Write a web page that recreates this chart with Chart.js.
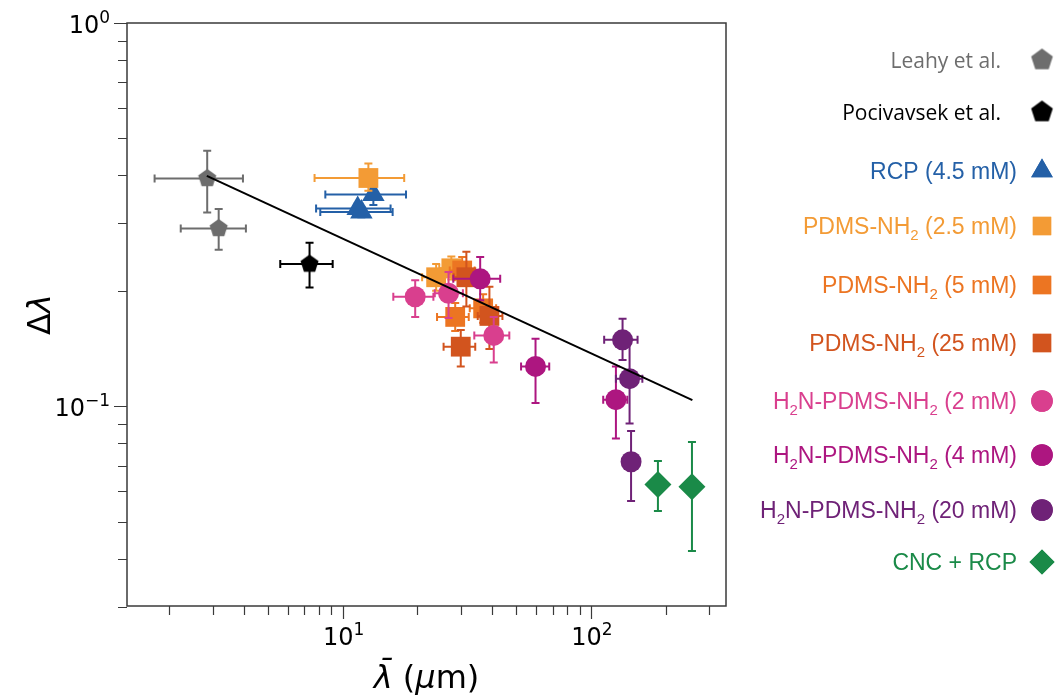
<!DOCTYPE html>
<html>
<head>
<meta charset="utf-8">
<script src="https://cdn.jsdelivr.net/npm/chart.js@4/dist/chart.umd.min.js"></script>
<style>
  body { margin: 0; background: #fff; }
  canvas { display: block; }
</style>
</head>
<body>
<canvas id="myChart" width="1063" height="697"></canvas>
<script>
// series names, "_2" means subscript 2
const seriesNames = [
  "Leahy et al.",
  "Pocivavsek et al.",
  "RCP (4.5 mM)",
  "PDMS-NH_2 (2.5 mM)",
  "PDMS-NH_2 (5 mM)",
  "PDMS-NH_2 (25 mM)",
  "H_2N-PDMS-NH_2 (2 mM)",
  "H_2N-PDMS-NH_2 (4 mM)",
  "H_2N-PDMS-NH_2 (20 mM)",
  "CNC + RCP"
];
const seriesColors = ["#6d6d6d", "#000000", "#2460a7", "#f39b35", "#ec7522", "#d2541e",
                      "#d93f8e", "#ad1680", "#6f2277", "#1a8a48"];
const seriesMarkers = ["pentagon", "pentagon", "triangle", "rect", "rect", "rect",
                       "circle", "circle", "circle", "rectRot"];

// mean wavelength (um)
const lambdaMean = [
  [2.85, 3.17], [7.36], [13.3, 11.5, 11.9], [12.7, 23.8, 27.4], [28.4, 36.8, 30.3],
  [29.9, 39.0, 31.5], [19.6, 26.7, 40.6], [35.8, 59.8, 126], [134, 143, 145], [186, 255]
];
const lambdaLow = [
  [1.75, 2.23], [5.61], [8.52, 7.82, 8.13], [7.71, 20.9, 24.5], [24.0, 32.5, 27.0],
  [25.5, 35.0, 28.0], [16.0, 23.5, 33.9], [27.9, 52.3, 112], [113, 126, null], [null, null]
];
const lambdaHigh = [
  [3.97, 4.08], [9.12], [18.0, 15.6, 15.9], [17.7, 28.4, 31.0], [32.2, 41.5, 34.0],
  [34.2, 44.0, 36.0], [23.2, 30.5, 46.9], [43.1, 67.9, 140], [154, 161, null], [null, null]
];
// delta lambda
const deltaMean = [
  [0.393, 0.291], [0.235], [0.357, 0.328, 0.321], [0.394, 0.217, 0.229], [0.171, 0.180, 0.226],
  [0.143, 0.172, 0.217], [0.193, 0.197, 0.153], [0.215, 0.127, 0.104], [0.149, 0.118, 0.0716], [0.0625, 0.0616]
];
const deltaLow = [
  [0.320, 0.256], [0.204], [0.335, 0.318, 0.311], [0.365, 0.200, 0.214], [0.157, 0.165, 0.208],
  [0.127, 0.141, 0.182], [0.171, 0.170, 0.130], [0.189, 0.102, 0.0824], [0.132, 0.0901, 0.0566], [0.0533, 0.0419]
];
const deltaHigh = [
  [0.464, 0.327], [0.267], [0.379, 0.338, 0.331], [0.430, 0.235, 0.246], [0.186, 0.196, 0.245],
  [0.158, 0.205, 0.253], [0.213, 0.224, 0.171], [0.245, 0.150, 0.127], [0.169, 0.149, 0.0862], [0.0719, 0.0807]
];

// power-law fit end points
const fitX = [2.84, 256];
const fitY = [0.399, 0.1037];

// axes
const xMin = 1.355, xMax = 349.6;
const yMin = 0.0301, yMax = 1;
const xTicks = [2, 3, 4, 5, 6, 7, 8, 9, 10, 20, 30, 40, 50, 60, 70, 80, 90, 100, 200, 300];
const xMajor = [10, 100];
const xMajorExp = ["1", "2"];
const yTicks = [0.03, 0.04, 0.05, 0.06, 0.07, 0.08, 0.09, 0.1, 0.2, 0.3, 0.4, 0.5, 0.6, 0.7, 0.8, 0.9, 1];
const yMajor = [0.1, 1];
const yMajorExp = ["\u22121", "0"];

function makePentagon(color, R) {
  const c = document.createElement("canvas");
  const s = Math.ceil(2 * R) + 2;
  c.width = s; c.height = s;
  const g = c.getContext("2d");
  g.fillStyle = color;
  g.beginPath();
  for (let k = 0; k < 5; k++) {
    const a = -Math.PI / 2 + k * 2 * Math.PI / 5;
    const px = s / 2 + R * Math.cos(a), py = s / 2 + R * Math.sin(a);
    if (k === 0) g.moveTo(px, py); else g.lineTo(px, py);
  }
  g.closePath();
  g.fill();
  return c;
}

const plotRadius = { pentagon: 9.5, triangle: 13, rect: 14, circle: 10.5, rectRot: 13.5 };
const legendRadius = { pentagon: 11.4, triangle: 12.5, rect: 13, circle: 10.8, rectRot: 12.5 };

function markerStyle(i, sizes) {
  const m = seriesMarkers[i];
  if (m === "pentagon") return makePentagon(seriesColors[i], sizes.pentagon);
  return m;
}

const datasets = seriesNames.map((name, i) => ({
  label: name,
  data: lambdaMean[i].map((x, j) => ({ x: x, y: deltaMean[i][j] })),
  pointStyle: markerStyle(i, plotRadius),
  pointRadius: plotRadius[seriesMarkers[i]],
  backgroundColor: seriesColors[i],
  borderColor: seriesColors[i],
  borderWidth: 0,
  order: 10 - i
}));

datasets.push({
  label: "fit",
  type: "line",
  data: fitX.map((x, j) => ({ x: x, y: fitY[j] })),
  borderColor: "#000",
  borderWidth: 2,
  pointRadius: 0,
  fill: false,
  order: -1
});

const errorBars = {
  id: "errorBars",
  beforeDatasetDraw(chart, args) {
    const i = args.index;
    if (i >= seriesNames.length) return;
    const xs = chart.scales.x, ys = chart.scales.y, ctx = chart.ctx;
    const cap = 4;
    ctx.save();
    ctx.strokeStyle = seriesColors[i];
    ctx.lineWidth = 2;
    lambdaMean[i].forEach((xv, j) => {
      const px = xs.getPixelForValue(xv), py = ys.getPixelForValue(deltaMean[i][j]);
      ctx.beginPath();
      if (lambdaLow[i][j] != null) {
        const a = xs.getPixelForValue(lambdaLow[i][j]), b = xs.getPixelForValue(lambdaHigh[i][j]);
        ctx.moveTo(a, py); ctx.lineTo(b, py);
        ctx.moveTo(a, py - cap); ctx.lineTo(a, py + cap);
        ctx.moveTo(b, py - cap); ctx.lineTo(b, py + cap);
      }
      if (deltaLow[i][j] != null) {
        const a = ys.getPixelForValue(deltaLow[i][j]), b = ys.getPixelForValue(deltaHigh[i][j]);
        ctx.moveTo(px, a); ctx.lineTo(px, b);
        ctx.moveTo(px - cap, a); ctx.lineTo(px + cap, a);
        ctx.moveTo(px - cap, b); ctx.lineTo(px + cap, b);
      }
      ctx.stroke();
    });
    ctx.restore();
  }
};

function drawParts(ctx, parts, x, y, align) {
  const widths = parts.map(p => { ctx.font = p.font; return ctx.measureText(p.text).width; });
  const total = widths.reduce((s, w) => s + w, 0);
  let cx = align === "right" ? x - total : align === "center" ? x - total / 2 : x;
  parts.forEach((p, k) => {
    ctx.font = p.font;
    ctx.fillText(p.text, cx, y + (p.dy || 0));
    cx += widths[k];
  });
}

function powerLabel(exp) {
  return [
    { text: "10", font: "24px 'DejaVu Sans'" },
    { text: exp, font: "17px 'DejaVu Sans'", dy: -10 }
  ];
}

// frame, tick marks and tick labels
const frameTicks = {
  id: "frameTicks",
  afterDatasetsDraw(chart) {
    const { ctx, chartArea: a } = chart;
    const xs = chart.scales.x, ys = chart.scales.y;
    ctx.save();
    ctx.strokeStyle = "#3a3a3a";
    ctx.lineWidth = 1.5;
    ctx.strokeRect(a.left, a.top, a.right - a.left, a.bottom - a.top);
    ctx.lineWidth = 1.2;
    ctx.beginPath();
    xTicks.forEach(v => {
      const p = Math.round(xs.getPixelForValue(v)) + 0.5;
      const len = xMajor.includes(v) ? 13 : 9;
      ctx.moveTo(p, a.bottom); ctx.lineTo(p, a.bottom + len);
    });
    yTicks.forEach(v => {
      const p = Math.round(ys.getPixelForValue(v)) + 0.5;
      const len = yMajor.includes(v) ? 13 : 9;
      ctx.moveTo(a.left, p); ctx.lineTo(a.left - len, p);
    });
    ctx.stroke();
    ctx.fillStyle = "#000";
    ctx.textBaseline = "alphabetic";
    xMajor.forEach((v, k) => {
      drawParts(ctx, powerLabel(xMajorExp[k]), xs.getPixelForValue(v) + 1, a.bottom + 39, "center");
    });
    yMajor.forEach((v, k) => {
      drawParts(ctx, powerLabel(yMajorExp[k]), a.left - 17, ys.getPixelForValue(v) + 10, "right");
    });
    ctx.restore();
  }
};

function splitName(name, font, subFont) {
  const parts = [];
  let buf = "";
  for (let k = 0; k < name.length; k++) {
    if (name[k] === "_") {
      if (buf) parts.push({ text: buf, font: font });
      buf = "";
      parts.push({ text: name[k + 1], font: subFont, dy: 6 });
      k++;
    } else buf += name[k];
  }
  if (buf) parts.push({ text: buf, font: font });
  return parts;
}

const legendAndTitles = {
  id: "legendAndTitles",
  afterDraw(chart) {
    const ctx = chart.ctx;
    const a = chart.chartArea;
    ctx.save();
    ctx.textBaseline = "alphabetic";
    // legend
    const legendY = [60, 112, 171, 226, 285, 343, 401, 455, 510, 562];
    seriesNames.forEach((name, i) => {
      const yc = legendY[i];
      ctx.fillStyle = seriesColors[i];
      let parts, right;
      if (i < 2) {
        parts = [{ text: name, font: "21px 'Open Sans'" }];
        right = 1001;
      } else {
        parts = splitName(name, "23px 'Liberation Sans'", "15px 'Liberation Sans'");
        right = 1017;
      }
      drawParts(ctx, parts, right, yc + 8, "right");
      const m = seriesMarkers[i];
      Chart.helpers.drawPoint(ctx, {
        pointStyle: markerStyle(i, legendRadius),
        radius: legendRadius[m],
        rotation: 0,
        borderWidth: 0
      }, 1042, yc);
      ctx.fill();
    });
    // axis titles
    ctx.fillStyle = "#000";
    drawParts(ctx, [
      { text: "λ\u0304", font: "italic 32px 'DejaVu Sans'" },
      { text: " (", font: "32px 'DejaVu Sans'" },
      { text: "μ", font: "italic 32px 'DejaVu Sans'" },
      { text: "m)", font: "32px 'DejaVu Sans'" }
    ], (a.left + a.right) / 2, 688, "center");
    ctx.translate(50, (a.top + a.bottom) / 2);
    ctx.rotate(-Math.PI / 2);
    drawParts(ctx, [
      { text: "Δ", font: "32px 'DejaVu Sans'" },
      { text: "λ", font: "italic 32px 'DejaVu Sans'" }
    ], 0, 0, "center");
    ctx.restore();
  }
};

new Chart("myChart", {
  type: "scatter",
  data: { datasets: datasets },
  options: {
    responsive: false,
    animation: false,
    layout: { padding: { top: 23, right: 337, left: 0, bottom: 0 } },
    plugins: { legend: { display: false }, tooltip: { enabled: false } },
    scales: {
      x: {
        type: "logarithmic",
        min: xMin,
        max: xMax,
        grid: { display: false, drawTicks: false },
        border: { display: false },
        afterBuildTicks: s => { s.ticks = xTicks.map(v => ({ value: v })); },
        afterFit: s => { s.height = 91; s.paddingLeft = 0; s.paddingRight = 0; },
        ticks: { display: false, autoSkip: false }
      },
      y: {
        type: "logarithmic",
        min: yMin,
        max: yMax,
        grid: { display: false, drawTicks: false },
        border: { display: false },
        afterBuildTicks: s => { s.ticks = yTicks.map(v => ({ value: v })); },
        afterFit: s => { s.width = 127; s.paddingTop = 0; s.paddingBottom = 0; },
        ticks: { display: false, autoSkip: false }
      }
    }
  },
  plugins: [errorBars, frameTicks, legendAndTitles]
});
</script>
</body>
</html>
